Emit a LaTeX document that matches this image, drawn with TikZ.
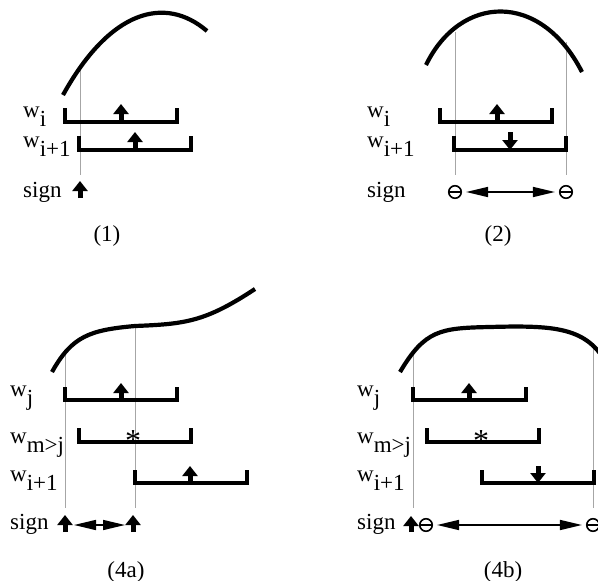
\documentclass[tikz,border=0pt]{standalone}
\usepackage{fontspec}
\setmainfont{Liberation Serif}
\usetikzlibrary{arrows.meta}
\newcommand\wsub[1]{w\raisebox{-9pt}{#1}}

\begin{document}
\begin{tikzpicture}[x=1pt,y=-1pt,
  curve/.style={line width=4.2pt},
  guide/.style={black!35,line width=0.7pt},
  brk/.style={line width=3.6pt},
  lbl/.style={anchor=base west,inner sep=0,font=\fontsize{23}{27}\selectfont},
  capt/.style={anchor=base,inner sep=0,font=\fontsize{23}{27}\selectfont},
  star/.style={anchor=base,inner sep=0,font=\fontsize{32}{36}\selectfont},
  sgn/.style={line width=5pt,-{Triangle[length=10pt,width=15pt]}},
  neg/.style={circle,draw,line width=1.6pt,minimum size=12.5pt,inner sep=0,
    path picture={\draw[line width=1.6pt] (path picture bounding box.west) -- (path picture bounding box.east);}},
  span/.style={{Triangle[length=22pt,width=10pt]}-{Triangle[length=22pt,width=10pt]},line width=1.6pt,
    shorten <=4pt,shorten >=4pt}]
  \useasboundingbox (0,0) rectangle (598,581);

  % (1)
  \draw[guide] (80,70) -- (80,175);
  \draw[curve] (63,95) .. controls (110,10) and (165,-5) .. (207,31);
  \node[lbl] (wi1) at (23,117) {\wsub{i}};
  \node[lbl] (wj1) at (23,147) {\wsub{i+1}};
  \node[lbl] (sg1) at (23,197) {sign};
  \draw[brk] (65,108) |- (177,122) -- (177,108);
  \draw[brk] (79,136) |- (191,150) -- (191,136);
  \draw[sgn] (121,122) -- (121,104);
  \draw[sgn] (135,150) -- (135,132);
  \draw[sgn] (80,198) -- (80,181);
  \node[capt] (c1) at (107,241) {(1)};

  % (2)
  \draw[guide] (455,32) -- (455,175);
  \draw[guide] (566,42) -- (566,175);
  \draw[curve] (426,65) .. controls (460,-5) and (540,-10) .. (582,72);
  \node[lbl] (wi2) at (367,117) {\wsub{i}};
  \node[lbl] (wj2) at (367,147) {\wsub{i+1}};
  \node[lbl] (sg2) at (367,197) {sign};
  \draw[brk] (440,108) |- (552,122) -- (552,108);
  \draw[brk] (454,136) |- (566,150) -- (566,136);
  \draw[sgn] (497,122) -- (497,104);
  \draw[sgn] (510,132) -- (510,150);
  \node[neg] (n1) at (455,192) {};
  \node[neg] (n2) at (566,192) {};
  \draw[span] (n1) -- (n2);
  \node[capt] (c2) at (498,241) {(2)};

  % (4a)
  \draw[guide] (65,352) -- (65,508);
  \draw[guide] (135,326) -- (135,508);
  \draw[curve] (52,372) .. controls (72,336) and (90,330) .. (135,326)
    .. controls (185,324) and (205,322) .. (255,289);
  \node[lbl] (wj3) at (10,396) {\wsub{j}};
  \node[lbl] (wm3) at (10,443) {\wsub{m>j}};
  \node[lbl] (wk3) at (10,481) {\wsub{i+1}};
  \node[lbl] (sg3) at (10,529) {sign};
  \draw[brk] (65,387) |- (177,400) -- (177,387);
  \draw[brk] (79,428) |- (191,442) -- (191,428);
  \draw[brk] (135,470) |- (247,483) -- (247,470);
  \draw[sgn] (121,400) -- (121,383);
  \node[star] (st3) at (133,451) {*};
  \draw[sgn] (190,483) -- (190,466);
  \coordinate (s3) at (65,525);
  \coordinate (s4) at (133,525);
  \draw[sgn] (65,532) -- (65,515);
  \draw[sgn] (133,532) -- (133,515);
  \draw[span,shorten <=9pt,shorten >=8pt] (s3) -- (s4);
  \node[capt] (c3) at (126,577) {(4a)};

  % (4b)
  \draw[guide] (413,355) -- (413,508);
  \draw[guide] (593,343) -- (593,508);
  \draw[curve] (400,372) .. controls (425,330) and (440,328) .. (490,327)
    .. controls (560,325) and (590,328) .. (610,370);
  \node[lbl] (wj4) at (357,396) {\wsub{j}};
  \node[lbl] (wm4) at (357,443) {\wsub{m>j}};
  \node[lbl] (wk4) at (357,481) {\wsub{i+1}};
  \node[lbl] (sg4) at (357,529) {sign};
  \draw[brk] (413,387) |- (526,400) -- (526,387);
  \draw[brk] (427,428) |- (539,442) -- (539,428);
  \draw[brk] (482,470) |- (594,483) -- (594,470);
  \draw[sgn] (469,400) -- (469,383);
  \node[star] (st4) at (481,451) {*};
  \draw[sgn] (538,466) -- (538,483);
  \draw[sgn] (411,532) -- (411,516);
  \node[neg] (n3) at (426,525) {};
  \node[neg] (n4) at (593,525) {};
  \draw[span] (n3) -- (n4);
  \node[capt] (c4) at (503,577) {(4b)};
\end{tikzpicture}
\end{document}
